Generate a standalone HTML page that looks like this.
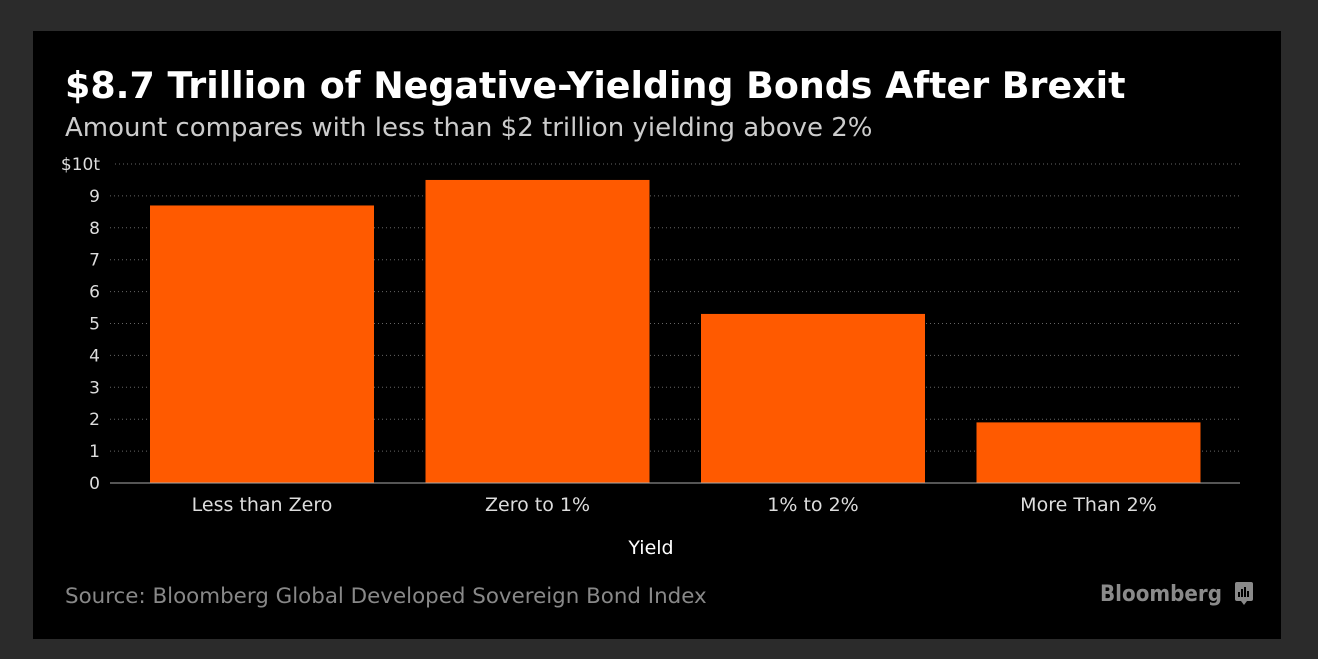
<!DOCTYPE html>
<html><head><meta charset="utf-8"><style>
body{margin:0;background:#2b2b2b;width:1318px;height:659px;overflow:hidden;font-family:"Liberation Sans","DejaVu Sans",sans-serif}
#panel{position:absolute;left:33px;top:31px;width:1248px;height:608px;background:#000}
</style></head><body>
<div id="panel"></div>
<svg id="c" width="1318" height="659" style="position:absolute;left:0;top:0">
<text x="65" y="98" fill="#fff" font-size="36.4" font-weight="bold" font-family="DejaVu Sans, sans-serif">$8.7 Trillion of Negative-Yielding Bonds After Brexit</text>
<text x="65" y="136" fill="#ccc" font-size="26" font-family="DejaVu Sans, sans-serif">Amount compares with less than $2 trillion yielding above 2%</text>
<text x="651" y="554" fill="#fff" font-size="19" text-anchor="middle" font-family="DejaVu Sans, sans-serif">Yield</text>
<text x="65" y="603" fill="#888" font-size="21.4" font-family="DejaVu Sans, sans-serif">Source: Bloomberg Global Developed Sovereign Bond Index</text>
<text x="1100" y="601" fill="#8a8a8a" font-size="22" font-weight="bold" textLength="122" lengthAdjust="spacingAndGlyphs" font-family="DejaVu Sans, sans-serif">Bloomberg</text>
<g><rect x="1235" y="582" width="18" height="19" rx="2" fill="#8a8a8a"/><path d="M1241 601 l3 4 l3 -4z" fill="#8a8a8a"/><path d="M1239 597v-5M1242 597v-8M1245 597v-10M1248 597v-6" stroke="#000" stroke-width="2"/></g>
</svg>
<script>
const categories=["Less than Zero","Zero to 1%","1% to 2%","More Than 2%"];
const values=[8.7,9.5,5.3,1.9];
const yTicks=[0,1,2,3,4,5,6,7,8,9,10];
const yTickLabels=["0","1","2","3","4","5","6","7","8","9","$10t"];
const svg=document.getElementById('c');const NS="http://www.w3.org/2000/svg";
const x0=110,x1=1240,y0=483,yTop=164;
const bandStart=124.5,band=275.5;
const y=v=>y0-(v/10)*(y0-yTop);
function el(t,a){const e=document.createElementNS(NS,t);for(const k in a)e.setAttribute(k,a[k]);svg.appendChild(e);return e;}
yTicks.forEach((t,i)=>{
 if(t>0){const g=el('line',{x1:(i===10?115:110),x2:x1,y1:y(t),y2:y(t),stroke:'#666','stroke-dasharray':'1,3'});
 
 }
 const tx=el('text',{x:100,y:y(t)+6,fill:'#ddd','font-size':17,'text-anchor':'end','font-family':'DejaVu Sans, sans-serif'});
 tx.textContent=yTickLabels[i];
 
 
});
categories.forEach((c,i)=>{
 const bx=bandStart+band*i+25.5,bw=224;
 const r=el('rect',{x:bx,y:y(values[i]),width:bw,height:y0-y(values[i]),fill:'#ff5a00'});
 
 
 const t=el('text',{x:bx+bw/2,y:511,fill:'#ddd','font-size':19,'text-anchor':'middle','font-family':'DejaVu Sans, sans-serif'});
 t.textContent=c;
 
 
});
const ax=el('line',{x1:x0,x2:x1,y1:y0,y2:y0,stroke:'#aaa','stroke-width':1});


</script>
</body></html>
